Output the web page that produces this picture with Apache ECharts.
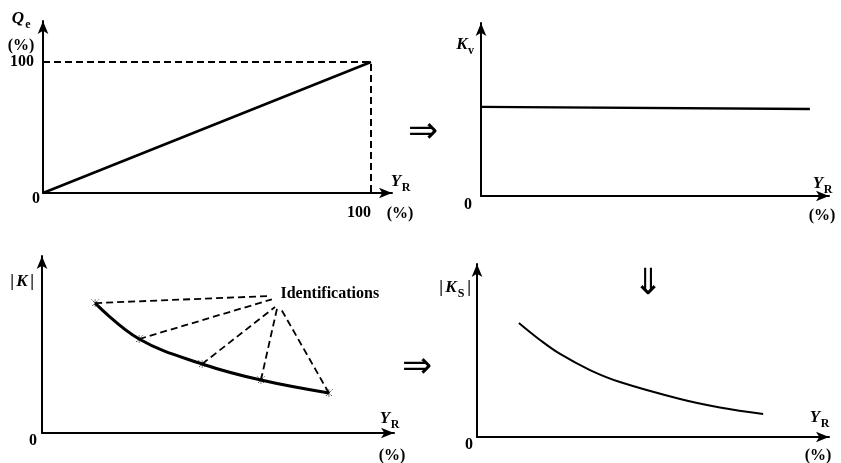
<!DOCTYPE html>
<html>
<head>
<meta charset="utf-8">
<script src="https://cdn.jsdelivr.net/npm/echarts@6/dist/echarts.min.js"></script>
<style>
  html, body { margin: 0; padding: 0; background: #fff; }
  #chart { width: 841px; height: 463px; }
</style>
</head>
<body>
<div id="chart"></div>
<script>
// Panel 1: Q_e against Y_R (both in %)
const qeLine = [[0, 0], [100, 100]];
const qeGuide = [[0, 100], [100, 100], [100, 0]];
const qeTickLabels = [100];

// Panel 2: K_v against Y_R
const kvLine = [[0, 51.5], [94.5, 50.3]];

// Panel 3: |K| identified at a few operating points
const kX = [15.1, 27.6, 45.5, 62.2, 81.5];
const kY = [73.4, 53.1, 39.0, 29.9, 22.6];
const idEndX = [64.8, 65.3, 66.2, 66.8, 67.9];
const idEndY = [77.4, 75.5, 71.2, 70.6, 70.1];
const idLabelPos = [67.6, 78.5];
const idLabelText = 'Identifications';

// Panel 4: |K_S| against Y_R
const ksX = [11.9, 17.9, 23.6, 32.1, 40.6, 57.7, 69.0, 81.3];
const ksY = [65.9, 56.1, 48.0, 38.7, 31.8, 22.0, 17.1, 13.3];

const SERIF = '"Liberation Serif", "DejaVu Serif", serif';
const SYMBOLS = '"DejaVu Sans", sans-serif';
const INK = '#000';

const axisLine = {
  show: true,
  onZero: false,
  symbol: ['none', 'arrow'],
  symbolSize: [8, 13],
  lineStyle: { color: INK, width: 2 }
};

function makeAxis(gridIndex, max, labels) {
  return {
    type: 'value', gridIndex, min: 0, max,
    axisLine,
    axisTick: { show: false },
    splitLine: { show: false },
    axisLabel: labels
  };
}

const noLabel = { show: false };
const labelFont = { color: INK, fontFamily: SERIF, fontWeight: 'bold', fontSize: 16 };

const grids = [
  { left: 43, top: 21, width: 349, height: 172 },
  { left: 481, top: 23, width: 348, height: 173 },
  { left: 42, top: 256, width: 352, height: 177 },
  { left: 477, top: 264, width: 352, height: 173 }
].map(g => Object.assign({ containLabel: false, outerBoundsMode: 'none' }, g));

const xAxes = [
  makeAxis(0, 106.4, Object.assign({ show: true, customValues: qeTickLabels, align: 'right', margin: 12 }, labelFont)),
  makeAxis(1, 100, noLabel),
  makeAxis(2, 100, noLabel),
  makeAxis(3, 100, noLabel)
];
const yAxes = [
  makeAxis(0, 131.3, Object.assign({ show: true, customValues: qeTickLabels, margin: 9 }, labelFont)),
  makeAxis(1, 100, noLabel),
  makeAxis(2, 100, noLabel),
  makeAxis(3, 100, noLabel)
];

function onGrid(i, extra) {
  return Object.assign({ xAxisIndex: i, yAxisIndex: i, silent: true, symbol: 'none' }, extra);
}

const series = [
  onGrid(0, { type: 'line', data: qeLine, lineStyle: { color: INK, width: 2.6 } }),
  onGrid(0, { type: 'line', data: qeGuide, lineStyle: { color: INK, width: 2, type: [7, 4] } }),
  onGrid(1, { type: 'line', data: kvLine, lineStyle: { color: INK, width: 2.4 } }),
  onGrid(2, {
    type: 'line', smooth: 0.4,
    data: kX.map((x, i) => [x, kY[i]]),
    lineStyle: { color: INK, width: 3 }
  })
];

// dashed leaders from each identification point to its label
kX.forEach((x, i) => {
  series.push(onGrid(2, {
    type: 'line',
    data: [[x, kY[i]], [idEndX[i], idEndY[i]]],
    lineStyle: { color: INK, width: 1.8, type: [7, 4] }
  }));
});

series.push(onGrid(2, {
  type: 'scatter',
  symbol: 'path://M0,0L10,10M10,0L0,10M5,0L5,10',
  symbolSize: 7,
  data: kX.map((x, i) => [x, kY[i]]),
  itemStyle: { color: 'transparent', borderColor: INK, borderWidth: 1, borderType: 'dotted', opacity: 1 }
}));

series.push(onGrid(2, {
  type: 'scatter',
  symbol: 'circle',
  symbolSize: 1,
  itemStyle: { color: 'transparent', opacity: 1 },
  data: [idLabelPos],
  label: {
    show: true, position: 'right', distance: 0,
    formatter: idLabelText,
    color: INK, fontFamily: SERIF, fontWeight: 'bold', fontSize: 16
  }
}));

series.push(onGrid(3, {
  type: 'line', smooth: 0.4,
  data: ksX.map((x, i) => [x, ksY[i]]),
  lineStyle: { color: INK, width: 2 }
}));

// axis names, origins and the arrows linking the panels
function txt(x, y, text, size, opts) {
  return {
    type: 'text', x, y, silent: true,
    style: Object.assign({
      text, fill: INK, fontFamily: SERIF, fontWeight: 'bold', fontSize: size,
      align: 'center', verticalAlign: 'middle'
    }, opts || {})
  };
}
const ital = { fontStyle: 'italic' };
const glyph = { fontFamily: SYMBOLS, fontWeight: 'normal' };

function yrLabel(x, y) {
  return [txt(x, y, 'Y', 17, ital), txt(x + 10, y + 6, 'R', 12)];
}

const graphic = [
  // panel 1
  txt(18, 19, 'Q', 17, ital), txt(28, 25, 'e', 12),
  txt(21, 46, '(%)', 16),
  txt(36, 199, '0', 16),
  ...yrLabel(396, 182),
  txt(400, 214, '(%)', 16),
  // panel 2
  txt(462, 45, 'K', 17, ital), txt(471, 51, 'v', 12),
  txt(468, 205, '0', 16),
  ...yrLabel(818, 184),
  txt(822, 216, '(%)', 16),
  // panel 3
  txt(12, 282, '|', 17), txt(22, 282, 'K', 17, ital), txt(32, 282, '|', 17),
  txt(33, 441, '0', 16),
  ...yrLabel(385, 419),
  txt(392, 456, '(%)', 16),
  // panel 4
  txt(441, 288, '|', 17), txt(451, 288, 'K', 17, ital), txt(461, 294, 'S', 12), txt(469, 288, '|', 17),
  txt(469, 445, '0', 16),
  ...yrLabel(815, 418),
  txt(818, 456, '(%)', 16),
  // flow arrows
  txt(423, 133, '⇒', 36, glyph),
  txt(417, 368, '⇒', 36, glyph),
  txt(648, 285, '⇓', 36, glyph)
];

const chart = echarts.init(document.getElementById('chart'), null, { renderer: 'canvas' });
chart.setOption({
  animation: false,
  backgroundColor: '#fff',
  grid: grids,
  xAxis: xAxes,
  yAxis: yAxes,
  series,
  graphic
});
</script>
</body>
</html>
